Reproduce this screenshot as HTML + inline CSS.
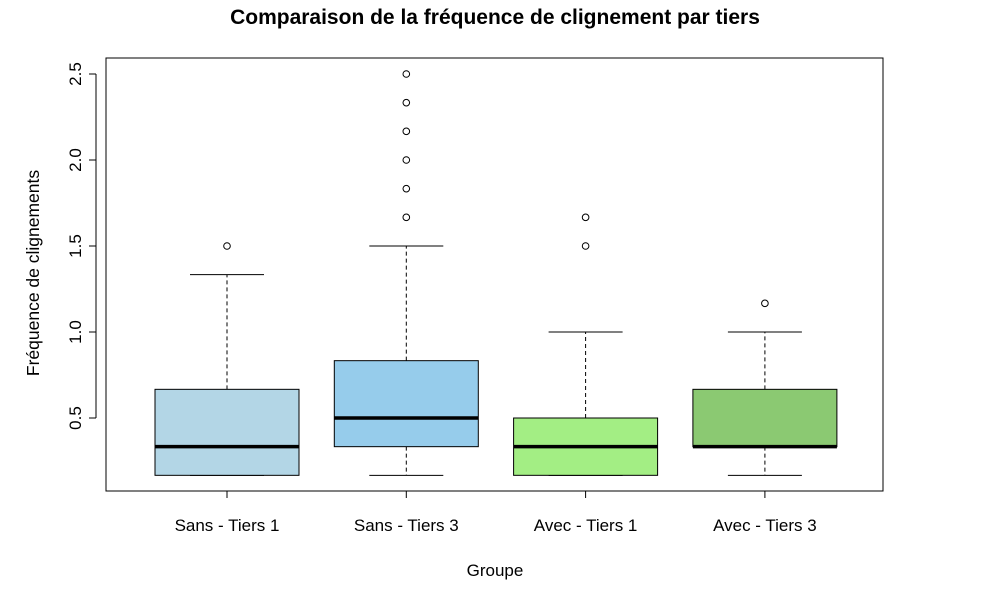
<!DOCTYPE html>
<html><head><meta charset="utf-8"><style>
body{margin:0;background:#fff;}
svg text{font-family:"Liberation Sans",Arial,sans-serif;}
</style></head><body>
<svg id="chart" width="987" height="589">
<text x="495" y="24" text-anchor="middle" font-size="21" font-weight="bold">Comparaison de la fréquence de clignement par tiers</text>
<text transform="translate(39,273) rotate(-90)" text-anchor="middle" font-size="17.5">Fréquence de clignements</text>
<text x="495" y="576" text-anchor="middle" font-size="17">Groupe</text>
<rect x="106" y="58" width="777" height="433" fill="none" stroke="#000"/>
<g id="g"></g>
</svg>
<script>
const categories=["Sans - Tiers 1","Sans - Tiers 3","Avec - Tiers 1","Avec - Tiers 3"];
const lows=[0.1667,0.1667,0.1667,0.1667];
const q1s=[0.1667,0.3333,0.1667,0.3333];
const medians=[0.3333,0.5,0.3333,0.3333];
const q3s=[0.6667,0.8333,0.5,0.6667];
const highs=[1.3333,1.5,1.0,1.0];
const outliers=[[1.5],[1.6667,1.8333,2.0,2.1667,2.3333,2.5],[1.5,1.6667],[1.1667]];
const colors=["#b3d6e6","#96cceb","#a3ee84","#8bc972"];
const yTicks=[0.5,1.0,1.5,2.0,2.5];
const NS="http://www.w3.org/2000/svg",g=document.getElementById("g");
const y=v=>504-172*v, x=i=>227+i*179.3;
function el(t,a){const e=document.createElementNS(NS,t);for(const k in a)e.setAttribute(k,a[k]);g.appendChild(e);return e;}
el("line",{x1:96,x2:96,y1:y(2.5),y2:y(0.5),stroke:"#000"});
yTicks.forEach(v=>{
 const t=el("line",{x1:89,x2:96,y1:y(v),y2:y(v),stroke:"#000"});
 
 
 const l=el("text",{transform:`translate(81,${y(v)}) rotate(-90)`,"text-anchor":"middle","font-size":"17"});
 l.textContent=v.toFixed(1);
 
 
});
el("line",{x1:x(0),x2:x(3),y1:491,y2:491,stroke:"#000"});
categories.forEach((c,i)=>{
 const cx=x(i),hw=72,cw=37;
 const t=el("line",{x1:cx,x2:cx,y1:491,y2:498,stroke:"#000"});
 
 
 const l=el("text",{x:cx,y:531,"text-anchor":"middle","font-size":"17"});
 l.textContent=c;
 
 
 const w1=el("line",{x1:cx,x2:cx,y1:y(q3s[i]),y2:y(highs[i]),stroke:"#000","stroke-dasharray":"4,3"});
 
 
 const w2=el("line",{x1:cx,x2:cx,y1:y(q1s[i]),y2:y(lows[i]),stroke:"#000","stroke-dasharray":"4,3"});
 
 
 [highs[i],lows[i]].forEach(v=>{
  const c2=el("line",{x1:cx-cw,x2:cx+cw,y1:y(v),y2:y(v),stroke:"#000"});
  
  
 });
 const b=el("rect",{x:cx-hw,y:y(q3s[i]),width:2*hw,height:Math.max(y(q1s[i])-y(q3s[i]),0),fill:colors[i],stroke:"#000"});
 
 
 const m=el("line",{x1:cx-hw,x2:cx+hw,y1:y(medians[i]),y2:y(medians[i]),stroke:"#000","stroke-width":3.5});
 
 
 outliers[i].forEach(v=>{
  const o=el("circle",{cx:cx,cy:y(v),r:3.3,fill:"none",stroke:"#000"});
  
  
 });
});
</script>
</body></html>
